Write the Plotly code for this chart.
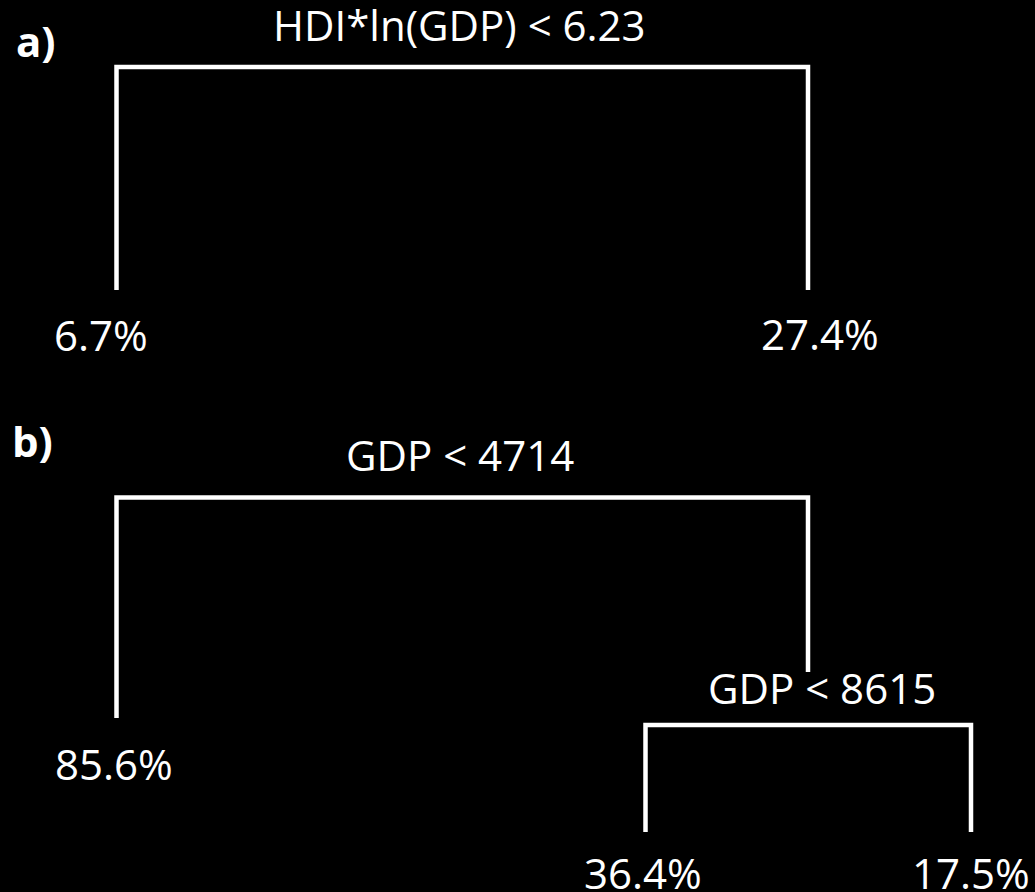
import plotly.graph_objects as go

# ---- data ----
panel_labels = ["a)", "b)"]
split_labels = ["HDI*ln(GDP) < 6.23", "GDP < 4714", "GDP < 8615"]
leaf_values = [6.7, 27.4, 85.6, 36.4, 17.5]   # percent

# ---- layout constants (pixel space, y downward) ----
W, H = 1035, 892
FONT = "Open Sans"
FS = 42
LW = 4.5

# brackets: (x_left, x_right, y_top, y_bottom_left, y_bottom_right)
brackets = [
    (116.5, 808, 67, 290, 290),
    (116.5, 808, 497.5, 718, 672),
    (645.5, 971, 725, 832, 832),
]
split_pos = [(459, 24), (460, 454), (822, 687)]
leaf_pos = [(101, 334), (820, 333), (114, 763), (643, 872), (971, 872)]
panel_pos = [(36, 40), (32, 440)]

fig = go.Figure()
for (xl, xr, yt, ybl, ybr) in brackets:
    fig.add_trace(go.Scatter(
        x=[xl, xl, xr, xr], y=[ybl, yt, yt, ybr], mode="lines",
        line=dict(color="white", width=LW), hoverinfo="skip", showlegend=False))

for lab, (x, y) in zip(split_labels, split_pos):
    fig.add_annotation(x=x, y=y, text=lab, showarrow=False, xanchor="center",
                       yanchor="middle", font=dict(family=FONT, size=FS, color="white"))
for v, (x, y) in zip(leaf_values, leaf_pos):
    fig.add_annotation(x=x, y=y, text=f"{v:.1f}%", showarrow=False, xanchor="center",
                       yanchor="middle", font=dict(family=FONT, size=FS, color="white"))
for lab, (x, y) in zip(panel_labels, panel_pos):
    fig.add_annotation(x=x, y=y, text=f"<b>{lab}</b>", showarrow=False, xanchor="center",
                       yanchor="middle", font=dict(family=FONT, size=FS, color="white"))

fig.update_layout(
    width=W, height=H, margin=dict(l=0, r=0, t=0, b=0),
    paper_bgcolor="black", plot_bgcolor="black",
    xaxis=dict(range=[0, W], visible=False, fixedrange=True),
    yaxis=dict(range=[H, 0], visible=False, fixedrange=True),
)
fig.write_html("out.html")
